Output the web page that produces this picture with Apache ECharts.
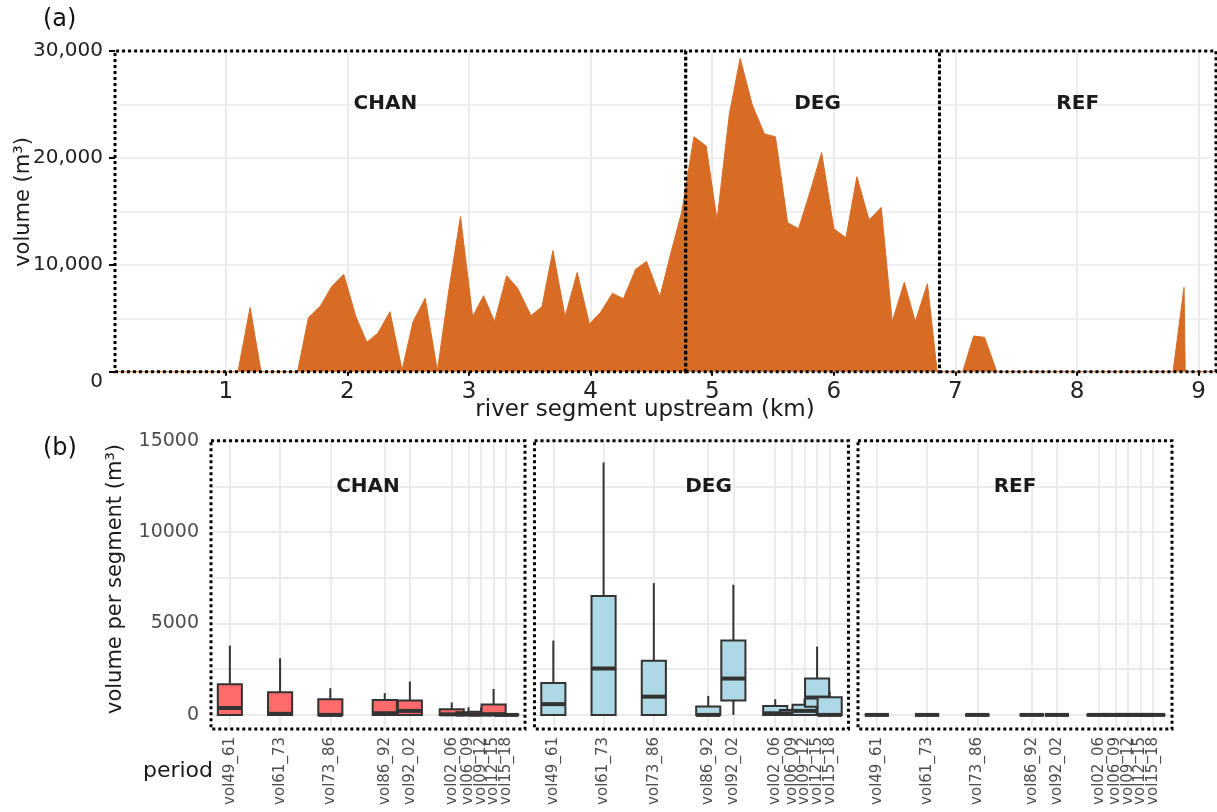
<!DOCTYPE html>
<html><head><meta charset="utf-8">
<script src="https://cdn.jsdelivr.net/npm/echarts@6/dist/echarts.min.js"></script>
<style>html,body{margin:0;padding:0;background:#fff}#c{width:1217px;height:812px}</style>
</head><body><div id="c"></div>
<script>
// ---------- DATA ----------
// (a) volume along the river (km upstream, m³)
const kmPos = [0.089, 1.10, 1.20, 1.29, 1.59, 1.68, 1.78, 1.87, 1.97, 2.07, 2.16, 2.25, 2.35, 2.45, 2.54, 2.64, 2.74, 2.83, 2.93, 3.03,
  3.12, 3.21, 3.31, 3.40, 3.51, 3.60, 3.69, 3.79, 3.89, 3.99, 4.08, 4.18, 4.27, 4.37, 4.46, 4.57, 4.66, 4.75, 4.85, 4.95,
  5.04, 5.14, 5.23, 5.33, 5.43, 5.52, 5.62, 5.71, 5.81, 5.90, 6.00, 6.10, 6.19, 6.29, 6.39, 6.48, 6.58, 6.67, 6.77, 6.85,
  7.06, 7.15, 7.24, 7.34, 8.79, 8.88, 8.89, 9.143];
const volume = [0, 0, 6000, 0, 0, 5050, 6170, 7950, 9100, 5150, 2750, 3600, 5610, 150, 4680, 6860, 100, 7300, 14500, 5150,
  7110, 4680, 8980, 7800, 5240, 6080, 11320, 5150, 9290, 4460, 5520, 7330, 6830, 9570, 10320, 7020, 11100, 14970, 21980, 21110,
  14190, 24010, 29310, 24940, 22230, 21980, 13940, 13380, 17000, 20500, 13380, 12530, 18240, 14190, 15370, 4680, 8360, 4680, 8230, 0,
  0, 3340, 3210, 0, 0, 7890, 0, 0];
const regionNames = ['CHAN', 'DEG', 'REF'];
const regionBounds = [0.089, 4.782, 6.869, 9.143];

// (b) box plots per period: [min, q1, median, q3, max]
const periods = ['vol49_61', 'vol61_73', 'vol73_86', 'vol86_92', 'vol92_02', 'vol02_06', 'vol06_09', 'vol09_12', 'vol12_15', 'vol15_18'];
const periodStart = [1949, 1961, 1973, 1986, 1992, 2002, 2006, 2009, 2012, 2015];
const chanBoxes = [
  [0, 0, 380, 1680, 3790],
  [0, 0, 60, 1240, 3100],
  [0, 0, 0, 860, 1460],
  [0, 0, 90, 820, 1190],
  [0, 0, 220, 790, 1830],
  [0, 0, 30, 310, 680],
  [0, 0, 20, 150, 420],
  [0, 0, 20, 170, 400],
  [0, 0, 40, 570, 1420],
  [0, 0, 0, 30, 60]
];
const degBoxes = [
  [0, 0, 590, 1740, 4070],
  [0, 0, 2540, 6510, 13810],
  [0, 0, 1000, 2970, 7210],
  [0, 0, 0, 460, 1040],
  [0, 790, 1990, 4070, 7120],
  [0, 0, 90, 490, 860],
  [0, 0, 90, 270, 350],
  [0, 0, 220, 550, 900],
  [0, 450, 950, 1990, 3740],
  [0, 0, 0, 970, 1280]
];
const refBoxes = [
  [0, 0, 0, 0, 0], [0, 0, 0, 0, 0], [0, 0, 0, 0, 0], [0, 0, 0, 0, 0], [0, 0, 0, 0, 0],
  [0, 0, 0, 0, 0], [0, 0, 0, 0, 0], [0, 0, 0, 0, 0], [0, 0, 0, 0, 0], [0, 0, 0, 0, 0]
];
const yTicksBottom = [0, 2500, 5000, 7500, 10000, 12500, 15000];
const yLabelsBottom = [0, 5000, 10000, 15000];

// ---------- STYLE ----------
const FONT = 'DejaVu Sans';
const ORANGE = '#D96C25';
const GRID_C = '#EBEBEB';
const BOX_W = 5.76; // years
const panels = [
  { name: 'CHAN', left: 211, fill: '#FF6B6B', boxes: chanBoxes, labelX: 368 },
  { name: 'DEG', left: 534.5, fill: '#ADD8E6', boxes: degBoxes, labelX: 708.5 },
  { name: 'REF', left: 858, fill: '#ADD8E6', boxes: refBoxes, labelX: 1015 }
];
const PANEL_W = 314, PANEL_TOP = 440.7, PANEL_H = 288.3;
const topLabelOffsets = [[-15, 0], [5, 0], [0, 0]];
// labels split over two coincident axes so that close labels are not auto-hidden
const labelSetA = periodStart.filter((_, i) => i % 2 === 0);
const labelSetB = periodStart.filter((_, i) => i % 2 === 1);

const chart = echarts.init(document.getElementById('c'), null, { renderer: 'canvas' });

function boxRenderer(fill) {
  return function (params, api) {
    const x = api.value(0);
    const lo = api.coord([x, api.value(1)]);
    const q1 = api.coord([x, api.value(2)]);
    const md = api.coord([x, api.value(3)]);
    const q3 = api.coord([x, api.value(4)]);
    const hi = api.coord([x, api.value(5)]);
    const w = api.size([BOX_W, 0])[0];
    const cx = q1[0];
    const s = { stroke: '#333', lineWidth: 2 };
    return {
      type: 'group', children: [
        { type: 'line', shape: { x1: cx, y1: hi[1], x2: cx, y2: q3[1] }, style: s },
        { type: 'line', shape: { x1: cx, y1: q1[1], x2: cx, y2: lo[1] }, style: s },
        { type: 'rect', shape: { x: cx - w / 2, y: q3[1], width: w, height: q1[1] - q3[1] }, style: { fill: fill, stroke: '#333', lineWidth: 2 } },
        { type: 'line', shape: { x1: cx - w / 2, y1: md[1], x2: cx + w / 2, y2: md[1] }, style: { stroke: '#333', lineWidth: 4 } }
      ]
    };
  };
}

const grids = [{ left: 115, right: 1, top: 51, bottom: 812 - 371.7 }];
const xAxes = [{
  type: 'value', gridIndex: 0, min: regionBounds[0], max: regionBounds[3], splitNumber: 9, minInterval: 1, maxInterval: 1,
  axisLine: { show: false },
  axisTick: { show: true, length: 4, lineStyle: { color: '#000', width: 2 } },
  axisLabel: {
    fontFamily: FONT, fontSize: 23, color: '#222', margin: 9, showMinLabel: false, showMaxLabel: false,
    formatter: v => (Math.abs(v - Math.round(v)) < 1e-6 ? String(Math.round(v)) : '')
  },
  splitLine: { show: true, lineStyle: { color: GRID_C, width: 2 } }
}];
const yAxes = [{
  type: 'value', gridIndex: 0, min: 0, max: 30000, interval: 10000,
  axisLine: { show: false },
  axisTick: { show: true, length: 6, lineStyle: { color: '#000', width: 2 } },
  axisLabel: {
    fontFamily: FONT, fontSize: 20, color: '#222', margin: 12,
    formatter: v => (v === 0 ? '{z|0}' : v.toLocaleString('en-US')),
    rich: { z: { fontFamily: FONT, fontSize: 20, color: '#222', padding: [20, 0, 0, 0] } }
  },
  splitLine: { show: true, lineStyle: { color: GRID_C, width: 1.5 } },
  minorTick: { show: false, splitNumber: 2 },
  minorSplitLine: { show: true, lineStyle: { color: GRID_C, width: 1.5 } }
}];

const series = [
  {
    type: 'line', xAxisIndex: 0, yAxisIndex: 0, z: 2, clip: false,
    data: kmPos.map((k, i) => [k, volume[i]]),
    symbol: 'none', lineStyle: { color: ORANGE, width: 1 }, areaStyle: { color: ORANGE, opacity: 1 },
    silent: true, animation: false
  },
  {
    type: 'line', xAxisIndex: 0, yAxisIndex: 0, z: 10, clip: false, data: [], silent: true, animation: false,
    markArea: {
      silent: true, z: 10,
      itemStyle: { color: 'rgba(0,0,0,0)', borderColor: '#000', borderWidth: 3, borderType: 'dotted' },
      label: { show: true, position: 'insideTop', distance: 44, fontFamily: FONT, fontSize: 20, fontWeight: 'bold', color: '#1a1a1a' },
      data: regionNames.map((n, i) => [
        { name: n, xAxis: regionBounds[i], yAxis: 0, label: { offset: topLabelOffsets[i] } },
        { xAxis: regionBounds[i + 1], yAxis: 30000 }
      ])
    }
  }
];

function periodLabelAxis(gi, labelSet, withGrid) {
  return {
    type: 'value', gridIndex: gi, position: 'bottom', offset: 0, min: 1944.5, max: 2019.5,
    axisLine: { show: false },
    axisTick: { show: false, customValues: withGrid ? periodStart : labelSet },
    axisLabel: {
      customValues: labelSet, rotate: 90, fontFamily: FONT, fontSize: 15, color: '#4d4d4d', margin: 8,
      hideOverlap: false, showMinLabel: true, showMaxLabel: true,
      formatter: v => periods[periodStart.indexOf(Math.round(v))] || ''
    },
    splitLine: { show: withGrid, lineStyle: { color: GRID_C, width: 2 } }
  };
}

const graphics = [];
panels.forEach((p, i) => {
  const gi = i + 1;
  grids.push({ left: p.left, width: PANEL_W, top: PANEL_TOP, height: PANEL_H });
  const xi = xAxes.length;
  xAxes.push(periodLabelAxis(gi, labelSetA, true));
  xAxes.push(periodLabelAxis(gi, labelSetB, false));
  yAxes.push({
    type: 'value', gridIndex: gi, min: -770, max: 15000,
    axisLine: { show: false },
    axisTick: { show: false, customValues: yTicksBottom },
    axisLabel: {
      show: i === 0, customValues: yLabelsBottom, fontFamily: FONT, fontSize: 19, color: '#4d4d4d', margin: 12,
      formatter: v => String(Math.round(v))
    },
    splitLine: { show: true, lineStyle: { color: GRID_C, width: 2 } }
  });
  series.push({
    type: 'custom', xAxisIndex: xi, yAxisIndex: gi, z: 3, clip: false, silent: true, animation: false,
    encode: { x: 0, y: [1, 2, 3, 4, 5] },
    data: p.boxes.map((b, j) => [periodStart[j]].concat(b)),
    renderItem: boxRenderer(p.fill)
  });
  graphics.push({
    type: 'rect', z: 100, silent: true,
    shape: { x: p.left, y: PANEL_TOP, width: PANEL_W, height: PANEL_H },
    style: { fill: 'none', stroke: '#000', lineWidth: 3, lineDash: [3, 3] }
  });
  graphics.push({
    type: 'text', z: 100, silent: true, x: p.labelX, y: 487,
    style: { text: p.name, font: 'bold 20px "DejaVu Sans"', fill: '#1a1a1a', align: 'center', verticalAlign: 'middle' }
  });
});

graphics.push(
  { type: 'text', z: 100, silent: true, x: 43, y: 20, style: { text: '(a)', font: '24px "DejaVu Sans"', fill: '#111', align: 'left', verticalAlign: 'middle' } },
  { type: 'text', z: 100, silent: true, x: 24, y: 202, rotation: Math.PI / 2, style: { text: 'volume (m³)', font: '21px "DejaVu Sans"', fill: '#1a1a1a', align: 'center', verticalAlign: 'middle' } },
  { type: 'text', z: 100, silent: true, x: 645, y: 410, style: { text: 'river segment upstream (km)', font: '23px "DejaVu Sans"', fill: '#1a1a1a', align: 'center', verticalAlign: 'middle' } },
  { type: 'text', z: 100, silent: true, x: 43, y: 449, style: { text: '(b)', font: '24px "DejaVu Sans"', fill: '#111', align: 'left', verticalAlign: 'middle' } },
  { type: 'text', z: 100, silent: true, x: 116, y: 579, rotation: Math.PI / 2, style: { text: 'volume per segment (m³)', font: '21px "DejaVu Sans"', fill: '#1a1a1a', align: 'center', verticalAlign: 'middle' } },
  { type: 'text', z: 100, silent: true, x: 178, y: 771, style: { text: 'period', font: '22px "DejaVu Sans"', fill: '#1a1a1a', align: 'center', verticalAlign: 'middle' } }
);

chart.setOption({
  animation: false,
  backgroundColor: '#fff',
  textStyle: { fontFamily: FONT },
  grid: grids,
  xAxis: xAxes,
  yAxis: yAxes,
  series: series,
  graphic: graphics
});
</script></body></html>
